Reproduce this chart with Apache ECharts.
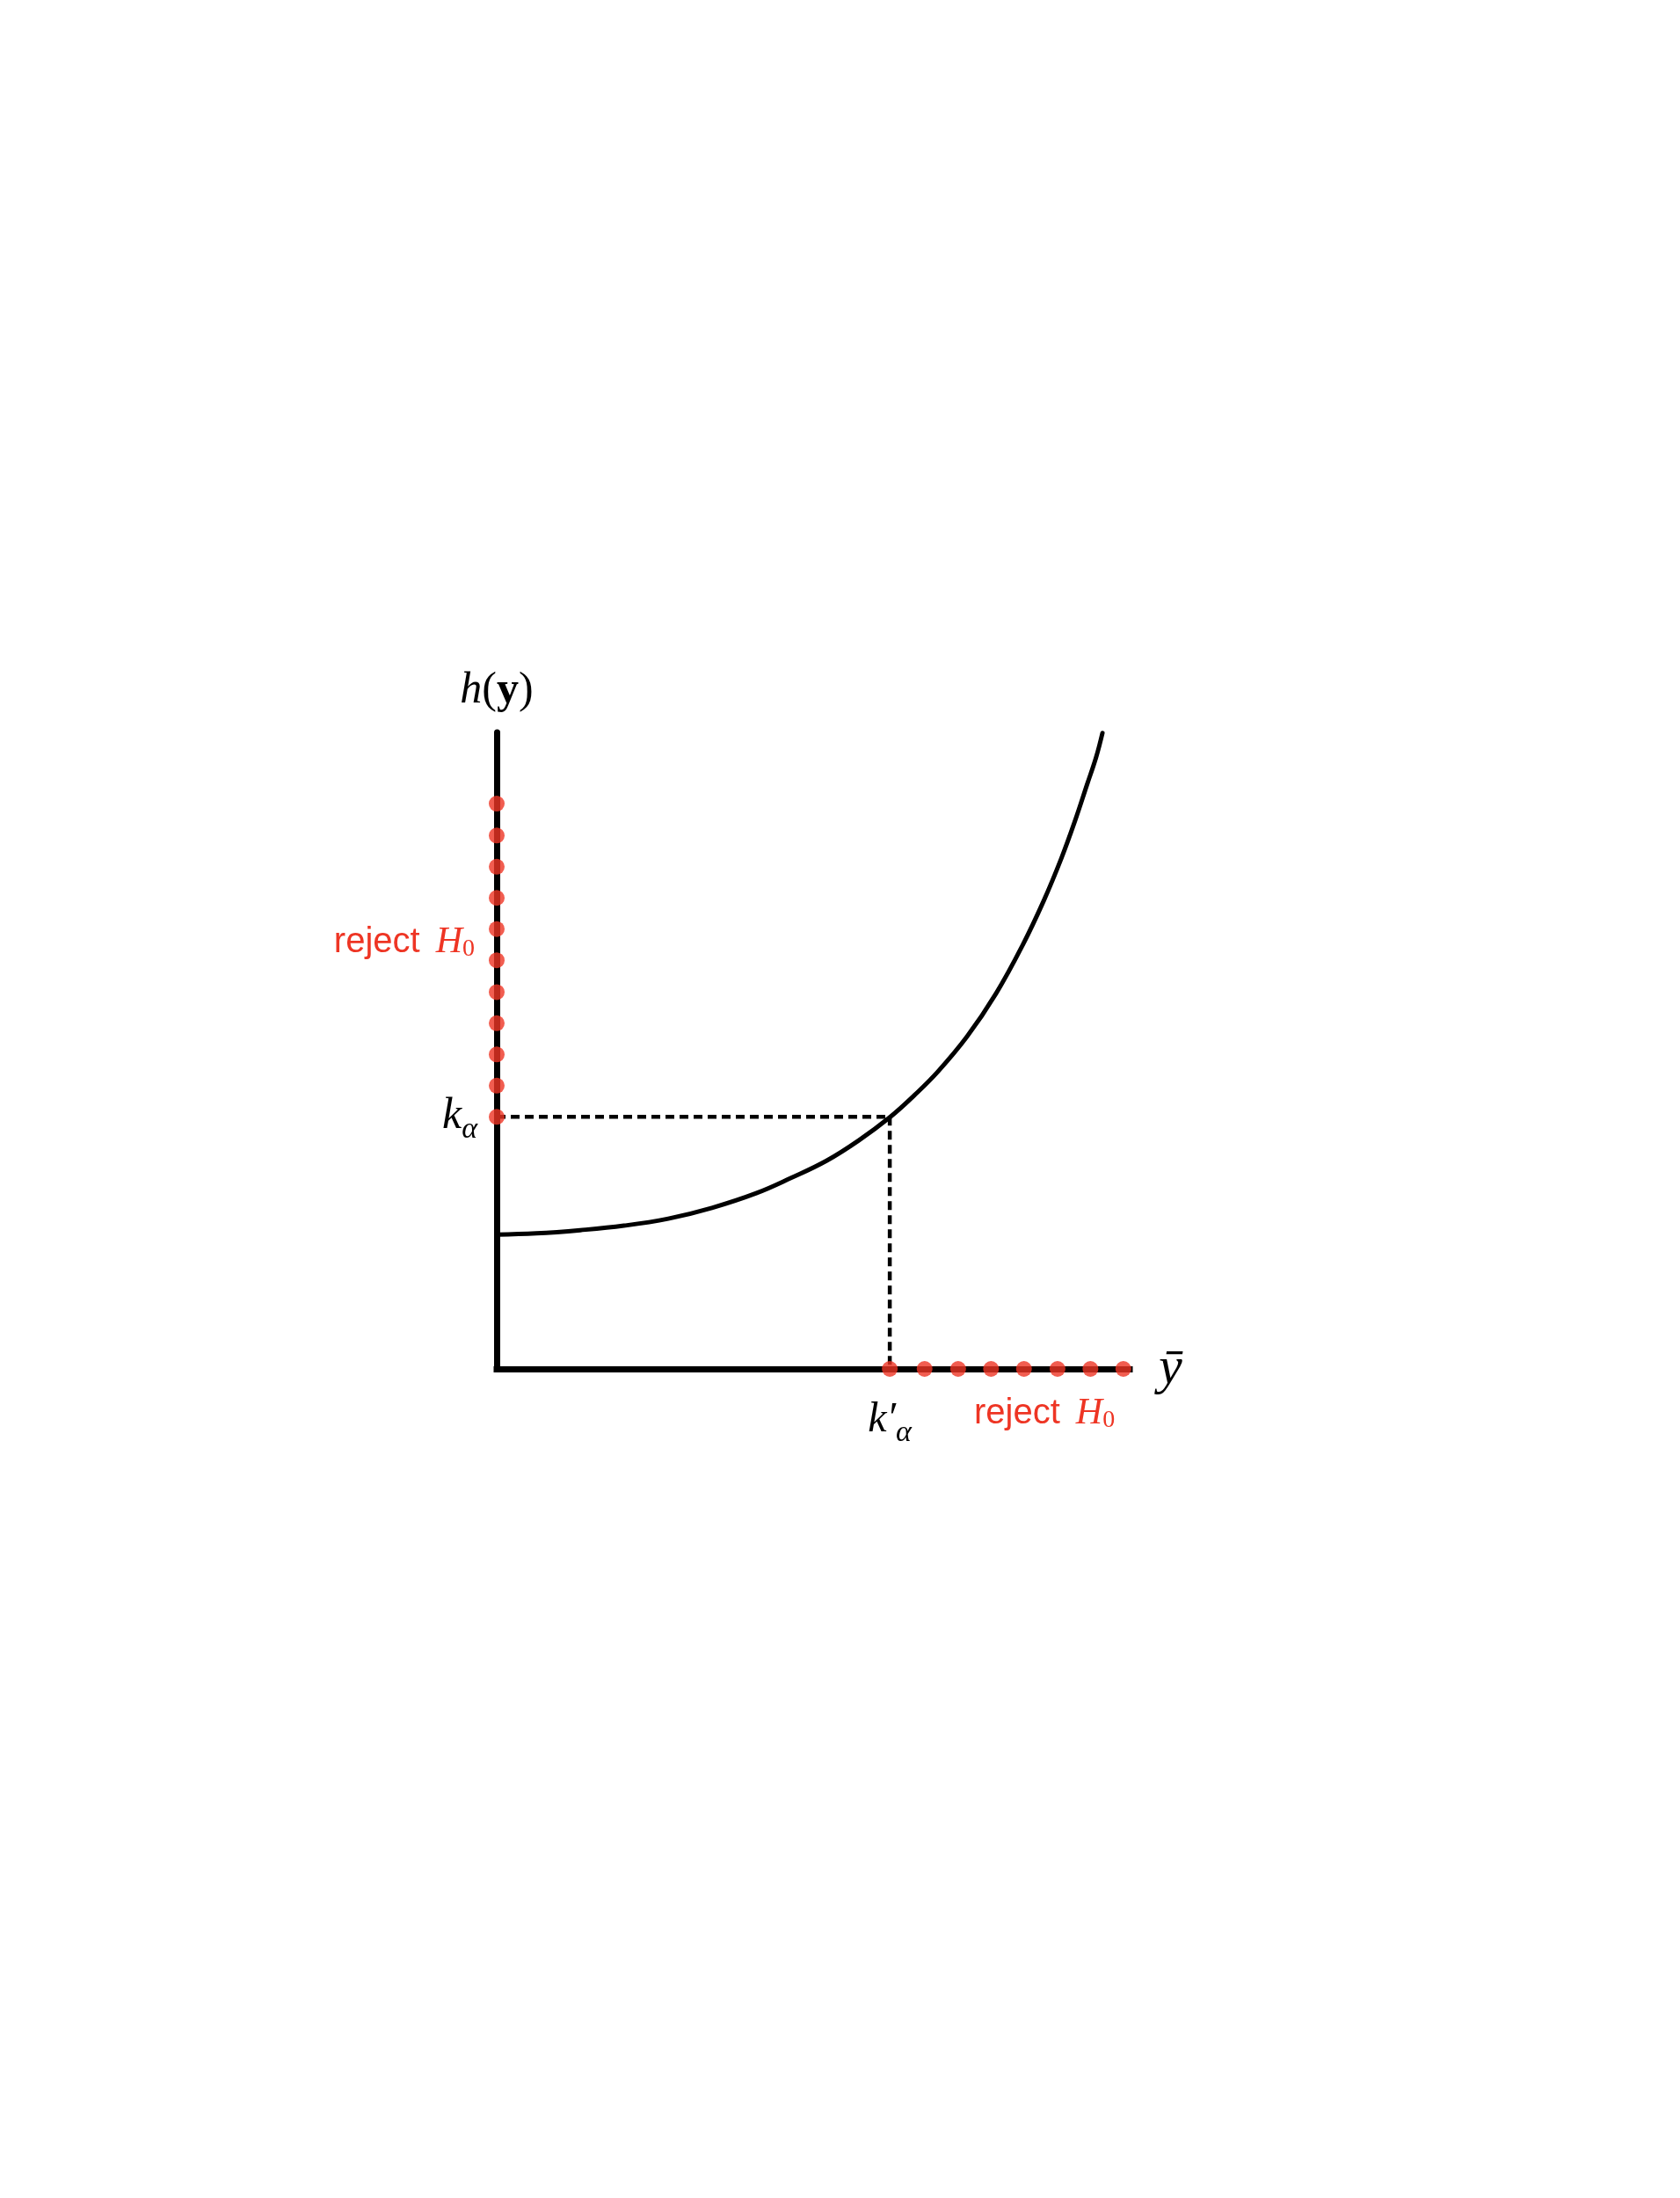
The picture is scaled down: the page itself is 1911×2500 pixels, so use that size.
<!DOCTYPE html>
<html><head><meta charset="utf-8">
<script src="https://cdn.jsdelivr.net/npm/echarts@6/dist/echarts.min.js"></script>
<style>html,body{margin:0;padding:0;background:#fff}#c{width:1911px;height:2500px}</style>
</head><body><div id="c"></div>
<script>
// curve h(y) as a function of ybar
const curveX = [0, 0.625, 1.32, 2.01, 2.71, 3.40, 4.10, 4.65, 5.21, 5.72, 6.22, 6.60, 6.97, 7.43, 7.89, 8.31, 8.64, 8.92, 9.14, 9.33, 9.47, 9.57];
const curveY = [2.11, 2.13, 2.18, 2.25, 2.36, 2.53, 2.76, 3.00, 3.27, 3.59, 3.96, 4.30, 4.67, 5.22, 5.90, 6.66, 7.35, 8.02, 8.62, 9.19, 9.61, 9.99];
// critical values
const kAlpha = 3.96;
const kAlphaPrime = 6.21;
// rejection region dots
const rejectY = [3.96, 4.45, 4.94, 5.43, 5.92, 6.42, 6.91, 7.40, 7.89, 8.38, 8.88];
const rejectX = [6.21, 6.76, 7.29, 7.81, 8.33, 8.86, 9.38, 9.90];
// texts
const yAxisTitle = ['h', '(', 'y', ')'];
const xAxisTitle = 'ȳ';
const rejectText = ['reject', 'H', '0'];

const RED = '#EE3524';
const SERIF = '"Liberation Serif", "DejaVu Serif", serif';
const SANS = '"Liberation Sans", Arial, sans-serif';

const chart = echarts.init(document.getElementById('c'), null, {renderer: 'canvas'});

const rejectRich = {
  r: {fontFamily: SANS, fontSize: 40, fill: RED},
  gap: {width: 18},
  H: {fontFamily: SERIF, fontStyle: 'italic', fontSize: 42, fill: RED},
  s: {fontFamily: SERIF, fontSize: 28, fill: RED, padding: [16, 0, 0, 0]}
};
const rejectStr = '{r|' + rejectText[0] + '}{gap|}{H|' + rejectText[1] + '}{s|' + rejectText[2] + '}';

chart.setOption({
  backgroundColor: '#fff',
  animation: false,
  grid: {left: 565, top: 833, right: 626, bottom: 943},
  xAxis: {
    type: 'value', min: 0, max: 10,
    splitLine: {show: false},
    axisTick: {show: false},
    axisLine: {show: true, lineStyle: {color: '#000', width: 7, cap: 'square'}},
    axisLabel: {
      show: true, customValues: [kAlphaPrime], margin: 26,
      formatter: () => '{k|k′}{a|α}',
      rich: {
        k: {fontFamily: SERIF, fontStyle: 'italic', fontSize: 48, color: '#000'},
        a: {fontFamily: SERIF, fontStyle: 'italic', fontSize: 34, color: '#000', padding: [30, 0, 0, 0]}
      }
    },
    name: '{y|' + xAxisTitle + '}',
    nameLocation: 'end', nameGap: 33,
    nameTextStyle: {
      align: 'left', verticalAlign: 'middle',
      rich: {y: {fontFamily: SERIF, fontStyle: 'italic', fontSize: 60, color: '#000'}}
    }
  },
  yAxis: {
    type: 'value', min: 0, max: 10,
    splitLine: {show: false},
    axisTick: {show: false},
    axisLine: {show: true, lineStyle: {color: '#000', width: 7, cap: 'round'}},
    axisLabel: {
      show: true, customValues: [kAlpha], margin: 22,
      formatter: () => '{k|k}{a|α}',
      rich: {
        k: {fontFamily: SERIF, fontStyle: 'italic', fontSize: 50, color: '#000'},
        a: {fontFamily: SERIF, fontStyle: 'italic', fontSize: 34, color: '#000', padding: [30, 0, 0, 0]}
      }
    },
    name: '{i|' + yAxisTitle[0] + '}{n|' + yAxisTitle[1] + '}{b|' + yAxisTitle[2] + '}{n|' + yAxisTitle[3] + '}',
    nameLocation: 'end', nameGap: 22,
    nameTextStyle: {
      align: 'center',
      rich: {
        i: {fontFamily: SERIF, fontStyle: 'italic', fontSize: 50, color: '#000'},
        n: {fontFamily: SERIF, fontSize: 50, color: '#000'},
        b: {fontFamily: SERIF, fontWeight: 'bold', fontSize: 50, color: '#000'}
      }
    }
  },
  series: [
    {
      type: 'line', z: 2, symbol: 'none', clip: false,
      data: [[0, kAlpha], [kAlphaPrime, kAlpha]],
      lineStyle: {color: '#000', width: 4.5, type: [10, 6]}
    },
    {
      type: 'line', z: 2, symbol: 'none', clip: false,
      data: [[kAlphaPrime, kAlpha], [kAlphaPrime, 0]],
      lineStyle: {color: '#000', width: 4.5, type: [10, 6]}
    },
    {
      type: 'line', z: 3, symbol: 'none', clip: false, smooth: 0.4,
      data: curveX.map((x, i) => [x, curveY[i]]),
      lineStyle: {color: '#000', width: 5, cap: 'round', join: 'round'}
    },
    {
      type: 'scatter', z: 5, clip: false, symbolSize: 18,
      itemStyle: {color: RED},
      data: rejectY.map(v => [0, v])
    },
    {
      type: 'scatter', z: 5, clip: false, symbolSize: 18,
      itemStyle: {color: RED},
      data: rejectX.map(v => [v, 0])
    }
  ],
  graphic: [
    {type: 'text', x: 540, y: 1072, style: {text: rejectStr, rich: rejectRich, fill: RED, align: 'right', verticalAlign: 'middle'}},
    {type: 'text', x: 1108, y: 1608, style: {text: rejectStr, rich: rejectRich, fill: RED, align: 'left', verticalAlign: 'middle'}}
  ]
});
</script></body></html>
